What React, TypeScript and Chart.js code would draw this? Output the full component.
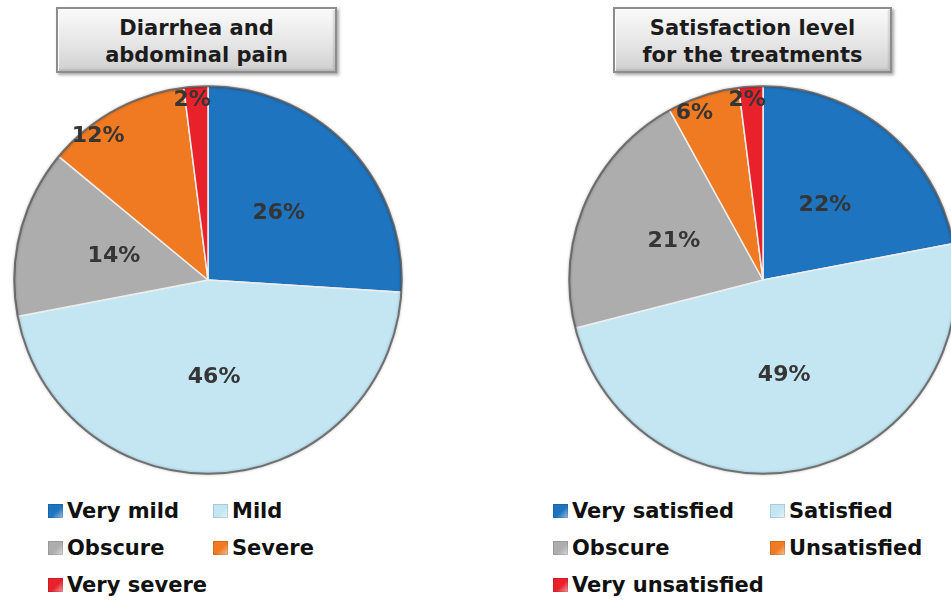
import React, { useEffect, useRef } from "react";
import { Chart, registerables } from "chart.js";

Chart.register(...registerables);

// Severity of diarrhea and abdominal pain (%)
const symptomLabels = ["Very mild", "Mild", "Obscure", "Severe", "Very severe"];
const symptomValues = [26, 46, 14, 12, 2];

// Satisfaction level for the treatments (%)
const satisfactionLabels = ["Very satisfied", "Satisfied", "Obscure", "Unsatisfied", "Very unsatisfied"];
const satisfactionValues = [22, 49, 21, 6, 2];

const sliceColors = ["#1f74bf", "#c4e6f2", "#adadad", "#f07a22", "#e8212b"];

const FONT = "'DejaVu Sans', Verdana, sans-serif";

// Writes the percentage of each slice: large slices in the middle, small ones near the rim
const percentLabels = {
  id: "percentLabels",
  afterDatasetsDraw(chart: any) {
    const ctx = chart.ctx;
    const meta = chart.getDatasetMeta(0);
    const values = chart.data.datasets[0].data as number[];
    ctx.save();
    ctx.font = `bold 22px ${FONT}`;
    ctx.fillStyle = "#353535";
    ctx.textAlign = "center";
    ctx.textBaseline = "middle";
    meta.data.forEach((arc: any, i: number) => {
      const { x, y, startAngle, endAngle, outerRadius } = arc.getProps(
        ["x", "y", "startAngle", "endAngle", "outerRadius"],
        true
      );
      const small = values[i] < 13;
      const angle = small
        ? startAngle + (endAngle - startAngle) * 0.3
        : (startAngle + endAngle) / 2;
      const r = outerRadius * (small ? 0.93 : 0.5);
      ctx.fillText(`${values[i]}%`, x + Math.cos(angle) * r, y + Math.sin(angle) * r);
    });
    ctx.restore();
  },
};

// Soft dark rim around the pie
const pieRim = {
  id: "pieRim",
  afterDatasetsDraw(chart: any) {
    const arc: any = chart.getDatasetMeta(0).data[0];
    if (!arc) return;
    const ctx = chart.ctx;
    ctx.save();
    ctx.beginPath();
    ctx.arc(arc.x, arc.y, arc.outerRadius - 0.5, 0, Math.PI * 2);
    ctx.strokeStyle = "rgba(80,80,80,0.75)";
    ctx.lineWidth = 2;
    ctx.shadowColor = "rgba(0,0,0,0.35)";
    ctx.shadowBlur = 3;
    ctx.stroke();
    ctx.restore();
  },
};

function PieCanvas({ labels, values, left, top, size }: { labels: string[]; values: number[]; left: number; top: number; size: number }) {
  const ref = useRef<HTMLCanvasElement>(null);
  useEffect(() => {
    if (!ref.current) return;
    const chart = new Chart(ref.current, {
      type: "pie",
      data: {
        labels,
        datasets: [
          {
            data: values,
            backgroundColor: sliceColors,
            borderColor: "#eeeeee",
            borderWidth: 1.5,
            hoverOffset: 0,
            offset: 0,
          },
        ],
      },
      options: {
        animation: false,
        responsive: false,
        maintainAspectRatio: false,
        layout: { padding: 5 },
        events: [],
        plugins: {
          legend: { display: false },
          tooltip: { enabled: false },
          title: { display: false },
        },
      },
      plugins: [pieRim, percentLabels],
    });
    return () => chart.destroy();
  }, []);
  return (
    <canvas
      ref={ref}
      width={size}
      height={size}
      style={{ position: "absolute", left, top, width: size, height: size }}
    />
  );
}

function TitleBox({ lines, left, width }: { lines: string[]; left: number; width: number }) {
  return (
    <div
      style={{
        position: "absolute",
        left,
        top: 7,
        width,
        height: 66,
        boxSizing: "border-box",
        border: "2px solid #8c8c8c",
        background: "linear-gradient(#fafafa, #e6e6e6 55%, #d0d0d0)",
        boxShadow: "2px 2px 3px rgba(0,0,0,0.35), inset 1px 1px 0 #ffffff, inset -2px -2px 2px rgba(0,0,0,0.12)",
        textAlign: "center",
        fontFamily: FONT,
        fontWeight: "bold",
        fontSize: 21,
        lineHeight: "27px",
        color: "#1c1c1c",
        paddingTop: 6,
      }}
    >
      {lines.map((l) => (
        <div key={l}>{l}</div>
      ))}
    </div>
  );
}

function Legend({ labels, left, col2 }: { labels: string[]; left: number; col2: number }) {
  const rows = [0, 37, 74];
  return (
    <>
      {labels.map((l, i) => {
        const x = i % 2 === 0 ? left : left + col2;
        const y = 497 + rows[Math.floor(i / 2)];
        return (
          <div
            key={l}
            style={{
              position: "absolute",
              left: x,
              top: y,
              height: 28,
              display: "flex",
              alignItems: "center",
              fontFamily: FONT,
              fontWeight: "bold",
              fontSize: 21,
              color: "#111111",
              whiteSpace: "nowrap",
            }}
          >
            <span
              style={{
                display: "inline-block",
                width: 15,
                height: 14,
                marginRight: 4,
                background: `linear-gradient(135deg, ${sliceColors[i]} 0%, ${sliceColors[i]} 55%, rgba(255,255,255,0.55) 100%), ${sliceColors[i]}`,
                boxShadow: "inset 0 0 0 1px rgba(0,0,0,0.12)",
              }}
            />
            {l}
          </div>
        );
      })}
    </>
  );
}

export default function App() {
  return (
    <div
      style={{
        position: "absolute",
        left: 0,
        top: 0,
        width: 951,
        height: 601,
        overflow: "hidden",
        background: "#ffffff",
      }}
    >
      <TitleBox lines={["Diarrhea and", "abdominal pain"]} left={56} width={281} />
      <TitleBox lines={["Satisfaction level", "for the treatments"]} left={613} width={279} />
      <PieCanvas labels={symptomLabels} values={symptomValues} left={8} top={80} size={400} />
      <PieCanvas labels={satisfactionLabels} values={satisfactionValues} left={563} top={80} size={400} />
      <Legend labels={symptomLabels} left={48} col2={165} />
      <Legend labels={satisfactionLabels} left={553} col2={217} />
    </div>
  );
}
